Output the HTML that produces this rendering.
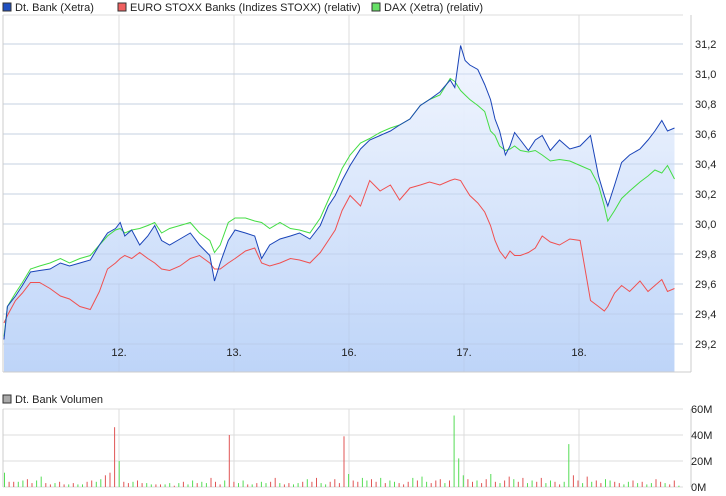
<!DOCTYPE html>
<html><head><meta charset="utf-8"><style>
body{margin:0;background:#fff;font-family:"Liberation Sans",sans-serif;}
svg{display:block}
text{font-family:"Liberation Sans",sans-serif;font-size:11px;fill:#222}
</style></head><body>
<svg id="c" width="726" height="496">
<defs><linearGradient id="g" x1="0" y1="0" x2="0" y2="1"><stop offset="0" stop-color="#f2f6fe"/><stop offset="1" stop-color="#bad2f8"/></linearGradient></defs>
<g>
<rect x="3" y="3" width="8" height="8" fill="#1f4fc0" stroke="#333"/>
<text x="15" y="11">Dt. Bank (Xetra)</text>
<rect x="118" y="3" width="8" height="8" fill="#f06060" stroke="#333"/>
<text x="130" y="11">EURO STOXX Banks (Indizes STOXX) (relativ)</text>
<rect x="372" y="3" width="8" height="8" fill="#66e066" stroke="#333"/>
<text x="384" y="11">DAX (Xetra) (relativ)</text>
<rect x="3" y="395" width="8" height="8" fill="#aaa" stroke="#333"/>
<text x="15" y="403">Dt. Bank Volumen</text>
</g>
<g id="main"></g>
<g id="vol"></g>
</svg>
<script>
const times=[0,.03,.10,.16,.23,.31,.40,.49,.57,.66,.75,.83,.90,.97,1.01,1.05,1.11,1.18,1.25,1.31,1.37,1.44,1.53,1.62,1.70,1.79,1.83,1.88,1.95,2.01,2.10,2.18,2.24,2.31,2.40,2.49,2.57,2.66,2.75,2.82,2.88,2.94,3.01,3.10,3.18,3.27,3.36,3.44,3.53,3.62,3.70,3.79,3.88,3.92,3.97,4.01,4.05,4.12,4.18,4.23,4.27,4.31,4.36,4.40,4.44,4.49,4.56,4.62,4.68,4.75,4.83,4.92,5.01,5.10,5.17,5.22,5.25,5.31,5.37,5.44,5.53,5.60,5.66,5.72,5.77,5.83];
const dtBank=[29.23,29.45,29.52,29.59,29.68,29.69,29.70,29.74,29.72,29.74,29.76,29.86,29.94,29.97,30.01,29.92,29.96,29.86,29.92,29.99,29.89,29.86,29.90,29.94,29.86,29.79,29.62,29.74,29.89,29.96,29.94,29.92,29.77,29.86,29.90,29.92,29.94,29.90,29.99,30.12,30.19,30.29,30.39,30.50,30.56,30.59,30.62,30.66,30.70,30.79,30.83,30.88,30.96,30.91,31.19,31.09,31.06,31.03,30.93,30.83,30.70,30.62,30.46,30.52,30.61,30.56,30.49,30.56,30.59,30.49,30.56,30.50,30.52,30.59,30.32,30.19,30.12,30.26,30.41,30.46,30.50,30.56,30.62,30.69,30.62,30.64];
const dax=[29.25,29.45,29.54,29.61,29.70,29.72,29.74,29.77,29.74,29.77,29.79,29.86,29.92,29.96,29.97,29.94,29.96,29.97,29.99,30.01,29.94,29.97,29.99,30.01,29.94,29.89,29.81,29.86,30.01,30.04,30.04,30.02,30.01,29.97,30.01,29.97,29.96,29.94,30.04,30.16,30.26,30.37,30.46,30.54,30.57,30.61,30.64,30.66,30.70,30.79,30.83,30.86,30.97,30.95,30.89,30.86,30.83,30.79,30.75,30.62,30.59,30.52,30.49,30.50,30.52,30.49,30.48,30.49,30.46,30.42,30.43,30.42,30.39,30.36,30.26,30.12,30.02,30.09,30.17,30.22,30.28,30.32,30.36,30.34,30.39,30.30];
const stoxx=[29.34,29.39,29.49,29.54,29.61,29.61,29.57,29.52,29.50,29.45,29.43,29.55,29.70,29.74,29.77,29.79,29.77,29.81,29.77,29.74,29.70,29.69,29.72,29.77,29.79,29.74,29.70,29.70,29.74,29.77,29.82,29.84,29.74,29.72,29.74,29.77,29.76,29.74,29.81,29.89,29.96,30.09,30.19,30.12,30.29,30.22,30.26,30.16,30.24,30.26,30.28,30.26,30.29,30.30,30.29,30.24,30.19,30.14,30.08,29.99,29.89,29.82,29.77,29.82,29.79,29.79,29.81,29.84,29.92,29.88,29.86,29.90,29.89,29.49,29.45,29.42,29.45,29.54,29.59,29.55,29.62,29.55,29.59,29.63,29.55,29.57];
const priceTicks=[29.2,29.4,29.6,29.8,30.0,30.2,30.4,30.6,30.8,31.0,31.2];
const dayLabels=["12.","13.","16.","17.","18."];
const volume=[11,4,4,4,5,6,3,5,8,3,2,3,4,2,2,3,2,2,4,5,4,6,9,11,46,20,4,3,4,5,3,3,2,2,2,2,3,1,3,4,2,5,3,4,3,7,4,2,5,40,4,3,5,2,2,3,4,3,4,7,3,2,3,2,3,4,6,4,7,3,2,4,6,3,39,10,5,4,7,5,6,4,7,3,5,4,3,2,4,7,5,8,4,3,5,6,3,5,55,22,9,6,4,5,3,6,10,4,3,5,8,6,4,7,3,5,4,7,3,5,4,2,4,33,9,5,3,8,4,5,3,6,5,4,3,2,4,5,3,4,2,3,6,4,3,2,5,1];
const volDir="udduudduud"+"dudduduudd"+"uuddduddud"+"duudduudud"+"uuduudddud"+"duududuudd"+"udduududdu"+"uddddudduu"+"dduduudddu"+"duuddduduu"+"udduddudud"+"dudduudduu"+"dduuddudud"+"duudduudud"+"uudduddu";
const volTicks=[0,20,40,60];
const volTickLabels=["0M","20M","40M","60M"];

const NS="http://www.w3.org/2000/svg";
function mk(tag,attrs,parent){const e=document.createElementNS(NS,tag);for(const k in attrs)e.setAttribute(k,attrs[k]);parent.appendChild(e);return e;}
const L=3,R=683,T=15,B=372;
const xS=t=>4+t*115;
const yS=v=>44+(31.2-v)*150;
const VB=487,vS=v=>VB-v*1.3;
const main=document.getElementById('main'),vol=document.getElementById('vol');

priceTicks.forEach(v=>{
 const l=mk('line',{x1:L,x2:R,y1:yS(v),y2:yS(v),stroke:'#dcdcdc'},main);
 
 
});
dayLabels.forEach((d,i)=>{
 const x=xS(i+1);
 const l=mk('line',{x1:x,x2:x,y1:T,y2:B,stroke:'#dcdcdc'},main);
 
 
 const l2=mk('line',{x1:x,x2:x,y1:409,y2:VB,stroke:'#dcdcdc'},vol);
 
 
});
let pts=times.map((t,i)=>xS(t).toFixed(1)+','+yS(dtBank[i]).toFixed(1));
const area=mk('path',{d:'M'+xS(times[0])+','+B+' L'+pts.join(' L')+' L'+xS(times[times.length-1])+','+B+' Z',fill:'url(#g)',opacity:'0.95'},main);


priceTicks.forEach(v=>{mk('line',{x1:L,x2:R,y1:yS(v),y2:yS(v),stroke:'#b8c8e4','stroke-opacity':'0.6'},main);});
dayLabels.forEach((d,i)=>{const x=xS(i+1);mk('line',{x1:x,x2:x,y1:yS(29.6),y2:B,stroke:'#b8c8e4','stroke-opacity':'0.5'},main);});
function line(arr,col,name){
 const p=mk('polyline',{points:times.map((t,i)=>xS(t).toFixed(1)+','+yS(arr[i]).toFixed(1)).join(' '),fill:'none',stroke:col,'stroke-width':'1'},main);
 
 
}
line(stoxx,'#f05050','euro-stoxx-line');
line(dax,'#44dd44','dax-line');
line(dtBank,'#1a44b8','dt-bank-line');
mk('line',{x1:L,x2:R+8,y1:B,y2:B,stroke:'#ccc'},main);
mk('line',{x1:L,x2:L,y1:T,y2:B,stroke:'#ccc'},main);
mk('line',{x1:L,x2:R,y1:T,y2:T,stroke:'#dcdcdc'},main);
mk('line',{x1:R+8,x2:R+8,y1:T,y2:B,stroke:'#ccc'},main);
priceTicks.forEach(v=>{
 const t=mk('text',{x:695,y:yS(v)+4},main);t.textContent=v.toFixed(1).replace('.',',');
 
 
});
dayLabels.forEach((d,i)=>{
 const t=mk('text',{x:xS(i+1),y:356,'text-anchor':'middle'},main);t.textContent=d;
 
 
});

volTicks.forEach((v,i)=>{
 const l=mk('line',{x1:L,x2:R,y1:vS(v),y2:vS(v),stroke:'#dcdcdc'},vol);
 
 
 const t=mk('text',{x:691,y:vS(v)+4},vol);t.textContent=volTickLabels[i];
 
 
});
mk('line',{x1:L,x2:L,y1:409,y2:VB,stroke:'#ccc'},vol);
mk('line',{x1:R+8,x2:R+8,y1:409,y2:VB,stroke:'#ccc'},vol);
const step=(R-4)/volume.length;
volume.forEach((v,i)=>{
 const x=4+i*step;
 const b=mk('rect',{x:x.toFixed(1),y:vS(v).toFixed(1),width:1,height:(VB-vS(v)).toFixed(1),fill:volDir[i]==='u'?'#55dd55':'#e05555'},vol);
 
 
});
</script>
</body></html>
